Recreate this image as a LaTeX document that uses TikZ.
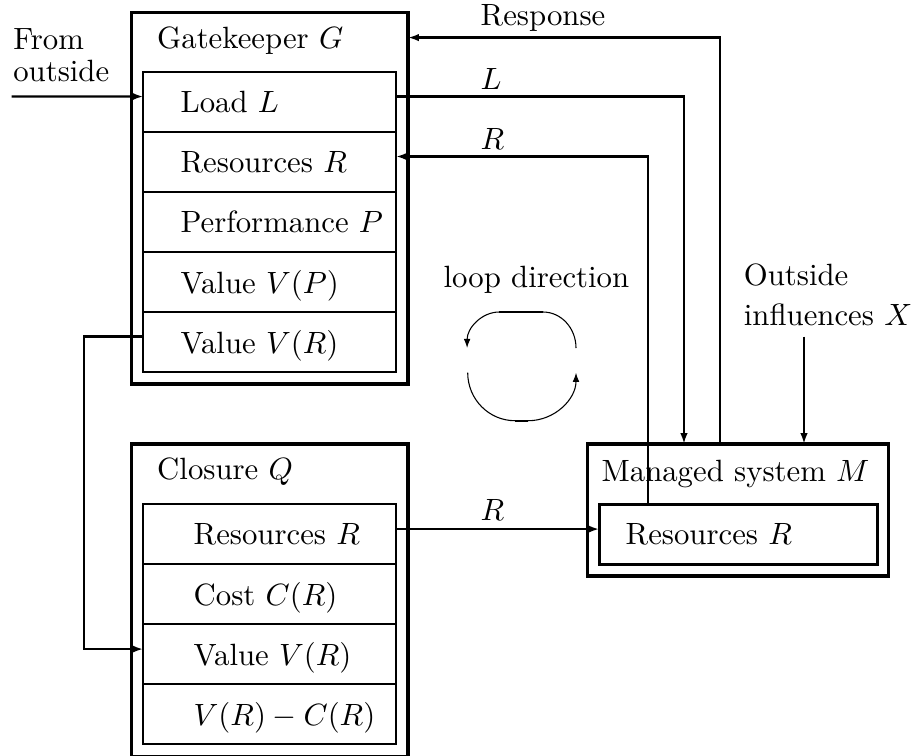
\documentclass[tikz,border=0pt]{standalone}
\usetikzlibrary{arrows.meta,positioning}
\tikzset{
  box/.style={draw, line width=1.1pt, inner sep=0pt, outer sep=0pt},
  row/.style={draw, line width=0.75pt, minimum width=82.1pt, minimum height=19.5pt, inner sep=0pt, outer sep=0pt},
  txt/.style={inner sep=0pt, text depth=0pt, anchor=west},
  conn/.style={line width=0.75pt, -{Latex[length=3.5pt,width=2.4pt]}},
  loopln/.style={line width=0.35pt, -{Latex[length=3pt,width=2.2pt]}}
}
\begin{document}
\begin{tikzpicture}[x=3.25pt,y=3.25pt]
\useasboundingbox (0,0) rectangle (91.7,-75.5);
\clip (0,0) rectangle (91.7,-75.5);
\node[box, minimum width=89.8pt, minimum height=120.7pt] (gate) at (26.985,-19.835) {};
\node[txt] (gtitle) at ([xshift=8.1pt,yshift=-8.1pt]gate.north west) {Gatekeeper $G$};
\node[row] (gload) at (26.965,-10.175) {};
\node[row, below=0pt of gload] (gres) {};
\node[row, below=0pt of gres] (gperf) {};
\node[row, below=0pt of gperf] (gvp) {};
\node[row, below=0pt of gvp] (gvr) {};
\node[txt, right=11.9pt of gload.west] (tgload) {Load $L$};
\node[txt, right=11.9pt of gres.west] (tgres) {Resources $R$};
\node[txt, right=11.9pt of gperf.west] (tgperf) {Performance $P$};
\node[txt, right=11.9pt of gvp.west] (tgvp) {Value $V(P)$};
\node[txt, right=11.9pt of gvr.west] (tgvr) {Value $V(R)$};

\node[box, minimum width=89.8pt, minimum height=101.7pt] (clos) at (26.985,-60.05) {};
\node[txt] (ctitle) at ([xshift=8.1pt,yshift=-8.1pt]clos.north west) {Closure $Q$};
\node[row] (cres) at (26.965,-53.43) {};
\node[row, below=0pt of cres] (ccost) {};
\node[row, below=0pt of ccost] (cval) {};
\node[row, below=0pt of cval] (cdiff) {};
\node[txt, right=16.15pt of cres.west] (tcres) {Resources $R$};
\node[txt, right=16.15pt of ccost.west] (tccost) {Cost $C(R)$};
\node[txt, right=16.15pt of cval.west] (tcval) {Value $V(R)$};
\node[txt, right=16.15pt of cdiff.west] (tcdiff) {$V(R)-C(R)$};

\node[box, minimum width=97.8pt, minimum height=42.9pt] (mgd) at (73.78,-51.0) {};
\node[txt] (mtitle) at ([xshift=4.45pt,yshift=-8.7pt]mgd.north west) {Managed system $M$};
\node[box, minimum width=90.35pt, minimum height=19.5pt] (mres) at (73.83,-53.43) {};
\node[txt, right=8.35pt of mres.west] (tmres) {Resources $R$};

\node[txt, anchor=north west, align=left] (lfrom) at (1.27,-2.83) {From\\[-1.7pt]outside};
\node[txt, anchor=north west, align=left] (lout) at (74.33,-26.33) {Outside\\[1pt]influences $X$};
\node[txt] (lresp) at (48,-1.5) {Response};
\node[txt] (lL) at (48,-7.9) {$L$};
\node[txt] (lR) at (48,-13.9) {$R$};
\node[txt] (lRc) at (48,-51.0) {$R$};
\node[txt] (lloop) at (44.3,-27.7) {loop direction};

\coordinate (fromin) at (1.17,-9.65);
\coordinate (xin) at (80.4,-33.67);
\draw[conn] (fromin) -- ([yshift=1.7pt]gload.west);
\draw[conn] ([xshift=-5.8pt]mgd.north) |- (gate.east |- gtitle);
\draw[conn] ([yshift=1.7pt]gload.east) -| ([xshift=-17.5pt]mgd.north);
\draw[conn] ([xshift=-29.45pt]mres.north) |- ([yshift=1.7pt]gres.east);
\draw[conn] (xin) -- (xin |- mgd.north);
\draw[conn] ([yshift=1.7pt]gvr.west) -- ++(-5.93,0) |- ([yshift=1.7pt]cval.west);
\draw[conn] ([yshift=1.7pt]cres.east) -- ([yshift=1.7pt]mres.west);

\draw[loopln] (57.6,-34.8) arc[start angle=0, end angle=90, x radius=3.3, y radius=3.6]
  -- (49.93,-31.2) arc[start angle=90, end angle=180, x radius=3.22, y radius=3.6];
\draw[line width=0.65pt] (49.93,-31.2) -- (54.3,-31.2);
\draw[loopln] (46.77,-37.27) arc[start angle=180, end angle=270, x radius=4.73, y radius=4.8]
  -- (52.83,-42.07) arc[start angle=270, end angle=360, x radius=4.77, y radius=4.8];
\draw[line width=0.65pt] (51.5,-42.07) -- (52.83,-42.07);
\end{tikzpicture}
\end{document}
